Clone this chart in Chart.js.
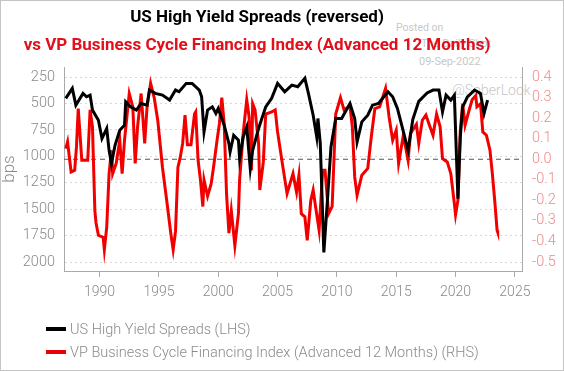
<!DOCTYPE html>
<html>
<head>
<meta charset="utf-8">
<script src="https://cdn.jsdelivr.net/npm/chart.js@4"></script>
<style>
  html, body { margin: 0; padding: 0; background: #fff; }
  #wrap { position: relative; width: 564px; height: 371px; box-sizing: border-box; border: 1px solid #c4c4c4; overflow: hidden; font-family: Roboto, sans-serif; }
  #myChart { position: absolute; left: -1px; top: -1px; }
  .t { position: absolute; left: 0; width: 512px; text-align: center; font-weight: bold; font-size: 17px; white-space: nowrap; }
  .wm { position: absolute; color: #c8c8c8; white-space: nowrap; }
  .leg { position: absolute; left: 45px; font-size: 14.5px; font-weight: 300; color: #8a8a8a; white-space: nowrap; }
  .leg span { display: inline-block; width: 20px; height: 4px; margin-right: 4px; vertical-align: middle; position: relative; top: -1px; }
</style>
</head>
<body>
<div id="wrap">
  <div class="wm" style="left:395px;top:20px;font-size:10.5px;">Posted on</div>
  <div class="wm" style="left:420px;top:36px;font-size:11px;">The Daily Shot</div>
  <div class="wm" style="left:418px;top:54px;font-size:11px;">09-Sep-2022</div>
  <div class="wm" style="left:451px;top:81px;font-size:14px;font-weight:300;">@SoberLook</div>
  <canvas id="myChart" width="564" height="371"></canvas>
  <div class="t" style="top:5px;color:#000;">US High Yield Spreads (reversed)</div>
  <div class="t" style="top:33px;color:#e3101c;">vs VP Business Cycle Financing Index (Advanced 12 Months)</div>
  <div class="leg" style="top:320px;"><span style="background:#000"></span>US High Yield Spreads (LHS)</div>
  <div class="leg" style="top:343px;"><span style="background:#e8000b"></span>VP Business Cycle Financing Index (Advanced 12 Months) (RHS)</div>
</div>
<script>
// US high yield spreads, bps (left axis, reversed)
let hyYears = [1987.15, 1987.7, 1988.0, 1988.6, 1988.9, 1989.2, 1989.4, 1989.9, 1990.2, 1990.6, 1990.8, 1991.0,
  1991.3, 1991.7, 1992.1, 1992.2, 1992.6, 1993.1, 1993.5, 1994.0, 1994.2, 1994.7, 1995.3, 1995.9, 1996.4, 1996.7,
  1997.3, 1997.8, 1998.4, 1998.6, 1998.8, 1999.1, 1999.5, 1999.8, 2000.0, 2000.5, 2000.9, 2001.0, 2001.3, 2001.7,
  2001.8, 2002.1, 2002.4, 2002.7, 2002.9, 2003.4, 2004.0, 2004.5, 2005.0, 2005.6, 2006.2, 2006.7, 2007.3, 2007.6,
  2008.0, 2008.3, 2008.4, 2008.6, 2008.9, 2009.2, 2009.5, 2009.9, 2010.4, 2011.1, 2011.5, 2011.7, 2012.1, 2012.6,
  2013.0, 2013.5, 2014.3, 2014.7, 2015.1, 2015.5, 2016.0, 2016.4, 2016.9, 2017.6, 2018.1, 2018.6, 2018.9, 2019.2,
  2019.6, 2019.9, 2020.2, 2020.4, 2020.6, 2021.0, 2021.6, 2022.1, 2022.4, 2022.7];
let hySpreads = [452, 357, 516, 405, 437, 421, 563, 658, 832, 737, 943, 1070,
  896, 753, 706, 484, 532, 563, 500, 516, 373, 405, 421, 468, 373, 389,
  310, 310, 373, 437, 769, 563, 532, 595, 547, 706, 880, 959, 801, 848,
  1022, 817, 722, 1117, 943, 737, 532, 452, 310, 389, 326, 342, 262, 405,
  611, 817, 642, 880, 1910, 1418, 912, 642, 642, 500, 642, 864, 674, 611,
  516, 500, 389, 437, 547, 722, 943, 650, 480, 400, 373, 373, 579, 421,
  468, 421, 1402, 817, 532, 437, 373, 405, 595, 468];

// VP business cycle financing index, advanced 12 months (right axis)
let vpYears = [1987.15, 1987.3, 1987.6, 1987.9, 1988.05, 1988.2, 1988.5, 1989.0, 1989.2, 1989.4, 1989.6, 1989.7,
  1989.9, 1990.3, 1990.4, 1990.6, 1990.8, 1991.0, 1991.1, 1991.4, 1991.7, 1991.9, 1992.1, 1992.5, 1992.8, 1993.0,
  1993.2, 1993.5, 1993.8, 1994.0, 1994.3, 1994.6, 1994.9, 1995.3, 1995.7, 1996.0, 1996.2, 1996.4, 1996.6, 1996.8,
  1997.0, 1997.2, 1997.4, 1997.7, 1998.0, 1998.1, 1998.3, 1998.5, 1998.7, 1998.8, 1999.1, 1999.4, 1999.6, 1999.9,
  2000.1, 2000.3, 2000.5, 2000.7, 2000.9, 2001.1, 2001.4, 2001.7, 2001.8, 2002.1, 2002.4, 2002.6, 2002.8, 2002.9,
  2003.1, 2003.4, 2003.5, 2003.8, 2004.0, 2004.5, 2004.8, 2005.0, 2005.4, 2005.8, 2006.3, 2006.6, 2006.8, 2007.0,
  2007.3, 2007.5, 2007.8, 2008.0, 2008.2, 2008.5, 2008.8, 2009.0, 2009.3, 2009.6, 2009.9, 2010.3, 2010.6, 2011.1,
  2011.3, 2011.5, 2011.7, 2012.1, 2012.6, 2012.9, 2013.2, 2013.6, 2014.1, 2014.4, 2014.7, 2015.0, 2015.2, 2015.6,
  2016.0, 2016.2, 2016.7, 2016.9, 2017.2, 2017.5, 2017.8, 2018.1, 2018.4, 2018.7, 2018.9, 2019.3, 2019.6, 2019.9,
  2020.0, 2020.2, 2020.4, 2020.6, 2020.8, 2021.1, 2021.4, 2021.7, 2021.8, 2022.1, 2022.3, 2022.6, 2022.9, 2023.1,
  2023.3, 2023.5, 2023.55];
let vpIndex = [0.052, 0.085, -0.062, -0.054, 0.06, 0.247, -0.005, -0.005, 0.24, 0.158, -0.25, -0.31,
  -0.37, -0.38, -0.44, -0.33, -0.07, 0.044, -0.07, -0.02, 0.093, -0.07, 0.093, 0.32, 0.255, -0.02,
  0.158, 0.32, 0.077, 0.255, 0.37, 0.30, 0.19, -0.04, -0.22, -0.36, -0.44, -0.35, -0.04, 0.01,
  0.077, 0.215, 0.07, 0.07, 0.22, 0.23, -0.005, -0.10, -0.23, -0.10, -0.18, -0.12, -0.04, 0.093,
  0.174, 0.30, 0.174, -0.17, -0.36, -0.25, -0.42, -0.265, -0.10, 0.125, 0.29, 0.206, -0.054, 0.27,
  0.24, 0.077, -0.15, -0.013, 0.22, 0.23, 0.24, 0.133, -0.02, -0.167, -0.07, -0.16, -0.078, -0.265,
  -0.28, -0.395, -0.20, -0.15, -0.23, -0.346, -0.054, -0.054, -0.265, -0.23, 0.22, 0.30, 0.24, 0.26,
  0.158, -0.086, -0.175, -0.078, -0.045, 0.11, 0.247, 0.255, 0.345, 0.206, 0.093, 0.141, -0.02, 0.117,
  -0.005, 0.125, 0.17, 0.077, 0.19, 0.215, 0.166, 0.117, 0.22, 0.158, 0.003, -0.013, -0.07, -0.216,
  -0.27, -0.20, 0.14, 0.27, 0.166, 0.23, 0.29, 0.31, 0.255, 0.27, 0.133, 0.117, 0.044, -0.07,
  -0.20, -0.346, -0.355];

let xRange = [1987.0, 2025.6];
let xTicks = [1990, 1995, 2000, 2005, 2010, 2015, 2020, 2025];
let leftTicks = [250, 500, 750, 1000, 1250, 1500, 1750, 2000];
let rightTicks = [0.4, 0.3, 0.2, 0.1, 0.0, -0.1, -0.2, -0.3, -0.4, -0.5];

const pts = (xs, ys) => xs.map((x, i) => ({ x: x, y: ys[i] }));
const grey = "#8a8a8a";
const tickFont = { family: "Roboto", size: 14.5, weight: 300 };

let ctx = document.getElementById("myChart").getContext("2d");

let spreadChart = new Chart(ctx, {
  type: "line",
  data: {
    datasets: [
      {
        label: "US High Yield Spreads (LHS)",
        data: pts(hyYears, hySpreads),
        yAxisID: "y",
        borderColor: "#000",
        borderWidth: 3,
        pointRadius: 0,
        tension: 0,
        order: 0,
      },
      {
        label: "VP Business Cycle Financing Index (Advanced 12 Months) (RHS)",
        data: pts(vpYears, vpIndex),
        yAxisID: "y2",
        borderColor: "#f20000",
        borderWidth: 3,
        pointRadius: 0,
        tension: 0,
        order: 1,
      },
      {
        label: "zero",
        data: pts(xRange, [0, 0]),
        yAxisID: "y2",
        borderColor: "#555",
        borderWidth: 1.2,
        borderDash: [5, 4],
        pointRadius: 0,
        order: 2,
      },
    ],
  },
  options: {
    responsive: false,
    animation: false,
    layout: { padding: { top: 67, bottom: 70, left: 0, right: 0 } },
    plugins: { legend: { display: false }, tooltip: { enabled: false } },
    scales: {
      x: {
        type: "linear",
        min: xRange[0],
        max: xRange[1],
        afterFit: (s) => { s.height = 30; },
        afterBuildTicks: (s) => { s.ticks = xTicks.map((v) => ({ value: v })); },
        ticks: { color: grey, font: { family: "Roboto", size: 14, weight: 300 }, padding: 7, callback: (v) => String(v) },
        grid: { drawOnChartArea: false, tickLength: 6, tickColor: "#aaa" },
        border: { color: "#aaa", width: 1 },
      },
      y: {
        position: "left",
        reverse: true,
        min: 155,
        max: 2085,
        afterFit: (s) => { s.width = 64; },
        afterBuildTicks: (s) => { s.ticks = leftTicks.map((v) => ({ value: v })); },
        ticks: { color: grey, font: tickFont, padding: 9, callback: (v) => String(v) },
        grid: { color: "#d8d8d8", drawTicks: false },
        border: { color: "#aaa", dash: [2, 3] },
        title: { display: true, text: "bps", color: grey, font: { family: "Roboto", size: 17, weight: 300 }, padding: 0 },
      },
      y2: {
        position: "right",
        min: -0.544,
        max: 0.449,
        afterFit: (s) => { s.width = 42; },
        afterBuildTicks: (s) => { s.ticks = rightTicks.map((v) => ({ value: v })); },
        ticks: {
          color: "#ef8a8a",
          font: tickFont,
          padding: 10,
          callback: (v) => (Math.abs(v) < 1e-9 ? "0.0" : v.toFixed(1)),
        },
        grid: { drawOnChartArea: false, drawTicks: false },
        border: { color: "#aaa" },
      },
    },
  },
});
</script>
</body>
</html>
